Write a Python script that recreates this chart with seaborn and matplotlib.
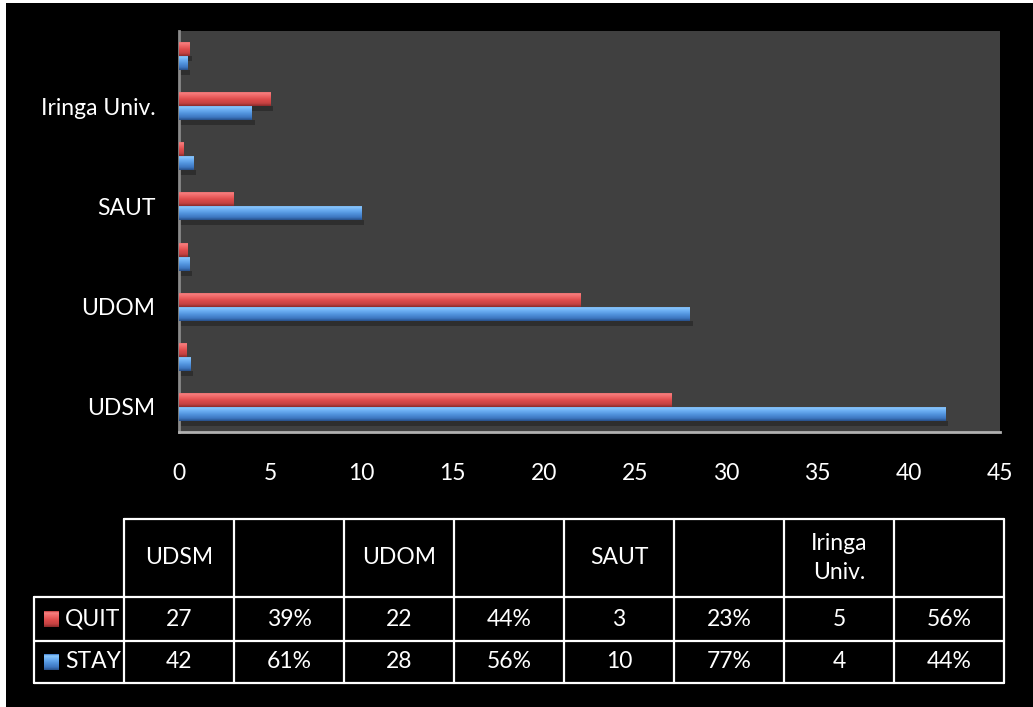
import numpy as np
import pandas as pd
import matplotlib
matplotlib.use("Agg")
import matplotlib.pyplot as plt
import seaborn as sns
from matplotlib.colors import LinearSegmentedColormap
from matplotlib.patches import Rectangle

# data, bottom row of the chart first (same order as the table columns)
categories = ["UDSM", "", "UDOM", "", "SAUT", "", "Iringa Univ.", ""]
table_headers = ["UDSM", "", "UDOM", "", "SAUT", "", "Iringa\nUniv.", ""]
quit_vals = [27, 0.39, 22, 0.44, 3, 0.23, 5, 0.56]
stay_vals = [42, 0.61, 28, 0.56, 10, 0.77, 4, 0.44]
series_names = ["QUIT", "STAY"]
x_ticks = [0, 5, 10, 15, 20, 25, 30, 35, 40, 45]


def fmt(v):
    if v < 1:
        return f"{round(v * 100)}%"
    return str(int(v))


keys = [f"c{i}" for i in range(len(categories))]
rows = []
for k, q, s in zip(keys, quit_vals, stay_vals):
    rows.append({"cat": k, "series": "QUIT", "value": q})
    rows.append({"cat": k, "series": "STAY", "value": s})
df = pd.DataFrame(rows)

sns.set_theme(style="dark")
plt.rcParams["font.family"] = ["Lato", "DejaVu Sans"]
FS = 16.5

W, H = 1033, 707
fig = plt.figure(figsize=(W / 100, H / 100), dpi=100, facecolor="black")
ax = fig.add_axes([179 / W, 1 - 432 / H, (1000 - 179) / W, (432 - 31) / H])
ax.set_facecolor("#404040")

sns.barplot(
    data=df, y="cat", x="value", hue="series",
    order=keys[::-1], hue_order=series_names,
    palette={"QUIT": "#d94a4a", "STAY": "#4a8ad8"},
    width=0.56, orient="h", legend=False, saturation=1,
    linewidth=0, ax=ax,
)

red_cmap = LinearSegmentedColormap.from_list("r", [
    (0.0, "#c03a3a"), (0.1, "#f68080"), (0.3, "#f06868"),
    (0.55, "#de4c4c"), (0.82, "#c44242"), (1.0, "#8a2b2b")])
blue_cmap = LinearSegmentedColormap.from_list("b", [
    (0.0, "#3a76c6"), (0.1, "#8cc8fc"), (0.3, "#6eb0f4"),
    (0.55, "#5294de"), (0.82, "#3d76c0"), (1.0, "#27508a")])
grad = np.linspace(0, 1, 64).reshape(-1, 1)

xl, yl = ax.get_xlim(), ax.get_ylim()
for p in list(ax.patches):
    r, g, b, _ = p.get_facecolor()
    cmap = red_cmap if r > b else blue_cmap
    x0, y0, w, h = p.get_x(), p.get_y(), p.get_width(), p.get_height()
    im = ax.imshow(grad, cmap=cmap, aspect="auto", interpolation="bilinear",
                   extent=[x0, x0 + w, y0 + h, y0], zorder=3)
    im.set_clip_path(p)
    # soft shadow under each bar
    ax.add_patch(Rectangle((x0, y0 + h), w + 0.15, h * 0.35,
                           color="#2e2e2e", lw=0, zorder=1))
ax.set_ylim(yl)
ax.set_xlim(0, 45)
ax.set_xticks(x_ticks)
ax.set_yticks(range(len(keys)))
ax.set_yticklabels(categories[::-1])
ax.set_xlabel("")
ax.set_ylabel("")
ax.grid(False)
ax.tick_params(axis="x", colors="white", labelsize=FS, pad=22, length=0)
ax.tick_params(axis="y", colors="white", labelsize=FS, pad=17, length=0)
for side in ["top", "right"]:
    ax.spines[side].set_visible(False)
ax.spines["left"].set_color("#8a8a8a")
ax.spines["left"].set_linewidth(2)
ax.spines["bottom"].set_color("#b0b0b0")
ax.spines["bottom"].set_linewidth(2)

# data table below the chart
tax = fig.add_axes([0, 0, 1, 1])
tax.set_xlim(0, W)
tax.set_ylim(H, 0)
tax.axis("off")
tax.patch.set_alpha(0)

tax.add_patch(Rectangle((0, 0), 6, H, color="white", lw=0))
tax.add_patch(Rectangle((0, 0), W, 3, color="white", lw=0))

col_x = np.linspace(124, 1004, len(categories) + 1)
y_head, y_r1, y_r2, y_end = 519, 597, 641, 683
x_left = 34
lw = 1.6
tax.plot([col_x[0], col_x[-1]], [y_head, y_head], color="white", lw=lw)
for yy in [y_r1, y_r2, y_end]:
    tax.plot([x_left, col_x[-1]], [yy, yy], color="white", lw=lw)
tax.plot([x_left, x_left], [y_r1, y_end], color="white", lw=lw)
for xx in col_x:
    tax.plot([xx, xx], [y_head, y_end], color="white", lw=lw)

centers = (col_x[:-1] + col_x[1:]) / 2
for cx, head, q, s in zip(centers, table_headers, quit_vals, stay_vals):
    tax.text(cx, (y_head + y_r1) / 2, head, color="white", fontsize=FS,
             ha="center", va="center", linespacing=1.45)
    tax.text(cx, (y_r1 + y_r2) / 2, fmt(q), color="white", fontsize=FS,
             ha="center", va="center")
    tax.text(cx, (y_r2 + y_end) / 2, fmt(s), color="white", fontsize=FS,
             ha="center", va="center")

for name, cmap, y_a, y_b in [("QUIT", red_cmap, y_r1, y_r2),
                             ("STAY", blue_cmap, y_r2, y_end)]:
    yc = (y_a + y_b) / 2
    tax.imshow(grad, cmap=cmap, aspect="auto", extent=[44, 59, yc + 8, yc - 8],
               zorder=3)
    tax.text(65, yc, name, color="white", fontsize=FS, ha="left", va="center")
tax.set_xlim(0, W)
tax.set_ylim(H, 0)

fig.savefig("out.png", dpi=100, facecolor="black")
